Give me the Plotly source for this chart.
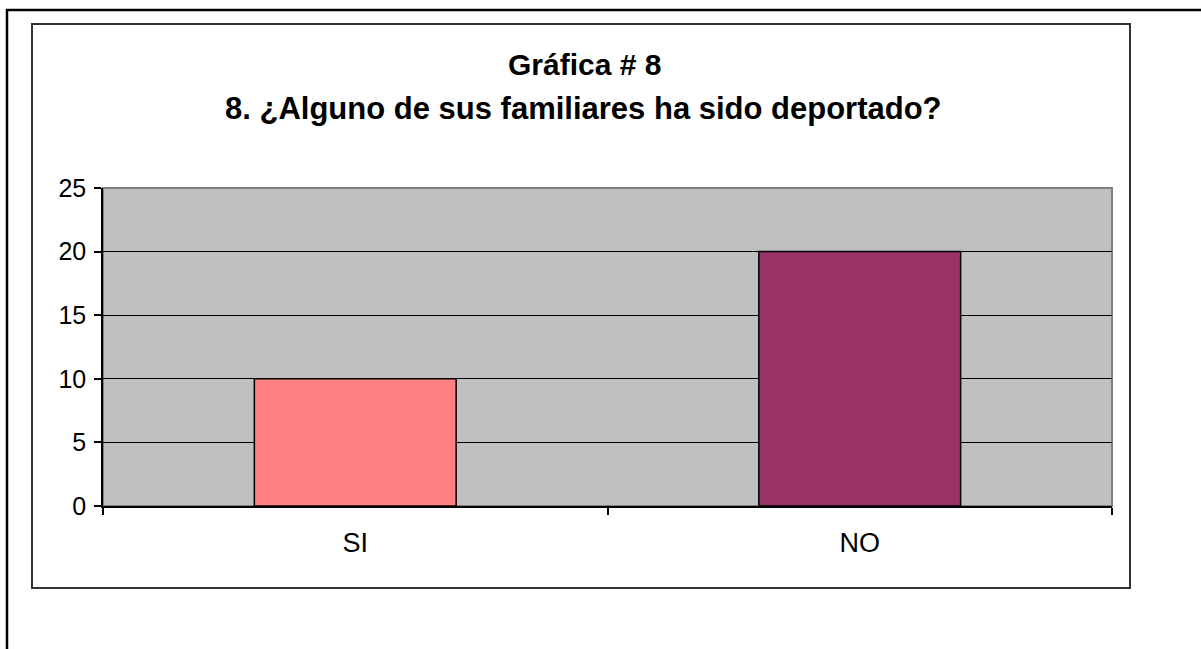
import plotly.graph_objects as go

categories = ["SI", "NO"]
values = [10, 20]
colors = ["#FF8080", "#993366"]
y_ticks = [0, 5, 10, 15, 20, 25]
title_line1 = "Gráfica # 8"
title_line2 = "8. ¿Alguno de sus familiares ha sido deportado?"

W, H = 1201, 649
L, R, T, B = 103, 1112, 188, 506


def px(x):
    return (x - L) / (R - L)


def py(y):
    return (B - y) / (B - T)


FONT = "Liberation Sans, Arial, sans-serif"

fig = go.Figure()
fig.add_trace(go.Bar(
    x=categories, y=values,
    marker=dict(color=colors, line=dict(color="black", width=1.5)),
    showlegend=False, hoverinfo="x+y",
))

shapes = [
    # outer frame (left and top)
    dict(type="line", xref="paper", yref="paper", x0=px(7), x1=px(7), y0=py(9), y1=py(660),
         line=dict(color="black", width=2.5), layer="above"),
    dict(type="line", xref="paper", yref="paper", x0=px(6), x1=px(1210), y0=py(10), y1=py(10),
         line=dict(color="black", width=2.5), layer="above"),
    # inner chart box
    dict(type="rect", xref="paper", yref="paper", x0=px(32), x1=px(1130), y0=py(24), y1=py(588),
         line=dict(color="#333333", width=2), layer="below"),
    # plot area border (gray)
    dict(type="rect", xref="paper", yref="paper", x0=0, x1=1, y0=0, y1=1,
         line=dict(color="#808080", width=2), layer="below"),
]

annotations = [
    dict(text="<b>%s</b>" % title_line1, xref="paper", yref="paper", x=px(584), y=py(65),
         showarrow=False, xanchor="center", yanchor="middle",
         font=dict(family=FONT, size=30, color="black")),
    dict(text="<b>%s</b>" % title_line2, xref="paper", yref="paper", x=px(583), y=py(108),
         showarrow=False, xanchor="center", yanchor="middle",
         font=dict(family=FONT, size=31, color="black")),
]

fig.update_layout(
    width=W, height=H,
    margin=dict(l=L, r=W - R, t=T, b=H - B, autoexpand=False),
    paper_bgcolor="white", plot_bgcolor="#C0C0C0",
    font=dict(family=FONT, size=24, color="black"),
    bargap=0.6,
    shapes=shapes, annotations=annotations,
    xaxis=dict(
        showline=True, linecolor="black", linewidth=1.5,
        ticks="outside", ticklen=7, tickcolor="black", tickwidth=1.5,
        tickson="boundaries", showgrid=False,
        tickfont=dict(family=FONT, size=27, color="black"),
        ticklabelstandoff=12,
    ),
    yaxis=dict(
        range=[0, 25], tickvals=y_ticks,
        showline=True, linecolor="black", linewidth=1.5,
        ticks="outside", ticklen=7, tickcolor="black", tickwidth=1.5,
        showgrid=True, gridcolor="black", gridwidth=1,
        zeroline=False,
        tickfont=dict(family=FONT, size=25, color="black"),
        ticklabelstandoff=3,
    ),
)

fig.write_html(
    "out.html",
    config={"displayModeBar": False},
    post_script="document.body.style.margin='0';document.body.style.overflow='hidden';",
)
